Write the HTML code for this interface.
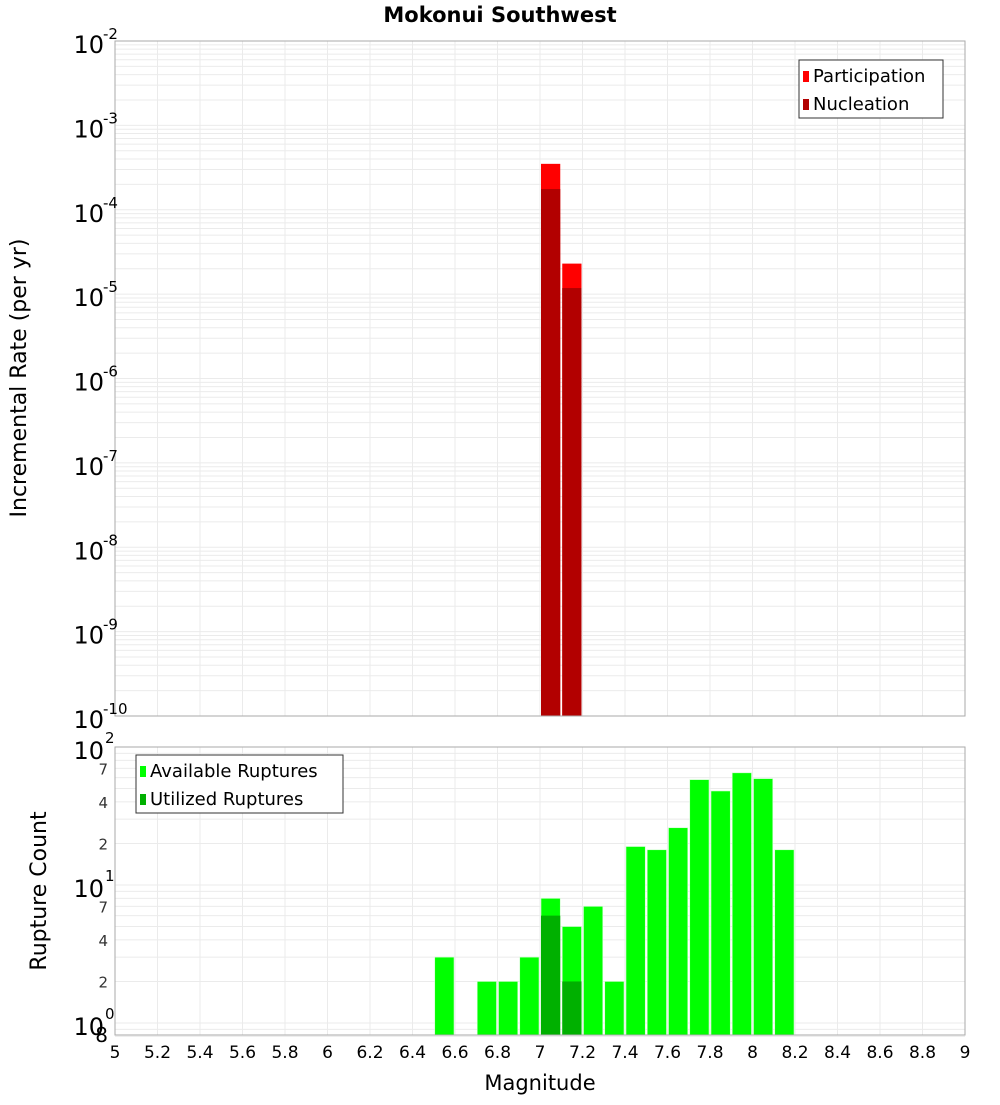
<!DOCTYPE html>
<html><head><meta charset="utf-8"><style>
body{margin:0;background:#fff;width:1000px;height:1100px;overflow:hidden}
svg{font-family:"DejaVu Sans","Liberation Sans",sans-serif}
</style></head><body>
<svg id="c" width="1000" height="1100"></svg>
<script>
const mags=[6.55,6.65,6.75,6.85,6.95,7.05,7.15,7.25,7.35,7.45,7.55,7.65,7.75,7.85,7.95,8.05,8.15];
const available=[3,0,2,2,3,8,5,7,2,19,18,26,58,48,65,59,18];
const utilized=[0,0,0,0,0,6,2,0,0,0,0,0,0,0,0,0,0];
const rateMags=[7.05,7.15];
const participation=[3.5e-4,2.3e-5];
const nucleation=[1.76e-4,1.18e-5];
const xTicks=[5,5.2,5.4,5.6,5.8,6,6.2,6.4,6.6,6.8,7,7.2,7.4,7.6,7.8,8,8.2,8.4,8.6,8.8,9];
const topExps=[-2,-3,-4,-5,-6,-7,-8,-9,-10];
const botMinor=[2,4,7];

const NS="http://www.w3.org/2000/svg",svg=document.getElementById('c');
function el(t,a,p){const e=document.createElementNS(NS,t);for(const k in a)e.setAttribute(k,a[k]);(p||svg).appendChild(e);return e;}
const L=115,R=965;
const X=m=>L+(m-5)/4*(R-L);
const T0=41,T1=716;
const Yt=v=>T0+(-2-Math.log10(v))*(T1-T0)/8;
const B0=747,B1=1035,BD=138;
const Yb=v=>B0+(2-Math.log10(v))*BD;

// title
let t=el('text',{x:500,y:22,'text-anchor':'middle','font-size':21,'font-weight':'bold'});t.textContent='Mokonui Southwest';


// top panel grid
const g1=el('g',{});
for(let e=-10;e<-2;e++)for(let k=1;k<10;k++){const y=Yt(k*Math.pow(10,e));el('line',{x1:L,x2:R,y1:y,y2:y,stroke:'#ebebeb'},g1);}
xTicks.forEach(m=>el('line',{x1:X(m),x2:X(m),y1:T0,y2:T1,stroke:'#ebebeb'},g1));
// bottom grid
const g2=el('g',{});
for(let e=-1;e<2;e++)for(let k=1;k<10;k++){const v=k*Math.pow(10,e);if(v<0.8)continue;const y=Yb(v);el('line',{x1:L,x2:R,y1:y,y2:y,stroke:'#ebebeb'},g2);}
xTicks.forEach(m=>el('line',{x1:X(m),x2:X(m),y1:B0,y2:B1,stroke:'#ebebeb'},g2));

// top bars
const w=X(5.1)-X(5);
rateMags.forEach((m,i)=>{
 let r=el('rect',{x:X(m)-w/2+1,y:Yt(participation[i]),width:w-2,height:T1-Yt(participation[i]),fill:'#ff0000'});
 
 r=el('rect',{x:X(m)-w/2+1,y:Yt(nucleation[i]),width:w-2,height:T1-Yt(nucleation[i]),fill:'#b20000'});
 
});
// bottom bars
mags.forEach((m,i)=>{
 if(available[i]>0){let r=el('rect',{x:X(m)-w/2+1,y:Yb(available[i]),width:w-2,height:B1-Yb(available[i]),fill:'#00ff00',stroke:'#ccffcc','stroke-width':0.6});
 }
 if(utilized[i]>0){let r=el('rect',{x:X(m)-w/2+1,y:Yb(utilized[i]),width:w-2,height:B1-Yb(utilized[i]),fill:'#00b000'});
 }
});

// frames
let f=el('rect',{x:L,y:T0,width:R-L,height:T1-T0,fill:'none',stroke:'#aaa'});
f=el('rect',{x:L,y:B0,width:R-L,height:B1-B0,fill:'none',stroke:'#aaa'});

// top y labels
topExps.forEach(e=>{const y=Yt(Math.pow(10,e));
 let tx=el('text',{x:104,y:y+12,'text-anchor':'end','font-size':24});tx.textContent='10';
 
 let s=el('text',{x:103,y:y-2,'font-size':15});s.textContent=String(e);
 });
// bottom y labels
[2,1,0].forEach(e=>{const y=Yb(Math.pow(10,e));
 let tx=el('text',{x:104,y:y+12,'text-anchor':'end','font-size':24});tx.textContent='10';
 
 let s=el('text',{x:105,y:y-4,'font-size':15});s.textContent=String(e);
 });
[1,10].forEach(d=>botMinor.forEach(k=>{const y=Yb(k*d);
 let tx=el('text',{x:108,y:y+6,'text-anchor':'end','font-size':15,fill:'#333'});tx.textContent=String(k);
 }));
t=el('text',{x:108,y:1042,'text-anchor':'end','font-size':20});t.textContent='8';


// x labels
xTicks.forEach(m=>{let tx=el('text',{x:X(m),y:1058,'text-anchor':'middle','font-size':17});tx.textContent=String(m);
 });
t=el('text',{x:540,y:1090,'text-anchor':'middle','font-size':21});t.textContent='Magnitude';

t=el('text',{x:0,y:0,'text-anchor':'middle','font-size':22,transform:'translate(26,378) rotate(-90)'});t.textContent='Incremental Rate (per yr)';

t=el('text',{x:0,y:0,'text-anchor':'middle','font-size':22,transform:'translate(46,891) rotate(-90)'});t.textContent='Rupture Count';


// legends
function legend(x,y,wd,items,name){const g=el('g',{});
 el('rect',{x:x,y:y,width:wd,height:58,fill:'#fff',stroke:'#333'},g);
 items.forEach((it,i)=>{el('rect',{x:x+4,y:y+11+i*28,width:6,height:11,fill:it[1]},g);
  let tx=el('text',{x:x+14,y:y+22+i*28,'font-size':18},g);tx.textContent=it[0];
  });}
legend(799,60,144,[['Participation','#ff0000'],['Nucleation','#b20000']],'top-legend');
legend(136,755,207,[['Available Ruptures','#00ff00'],['Utilized Ruptures','#00b000']],'bottom-legend');
</script>
</body></html>
